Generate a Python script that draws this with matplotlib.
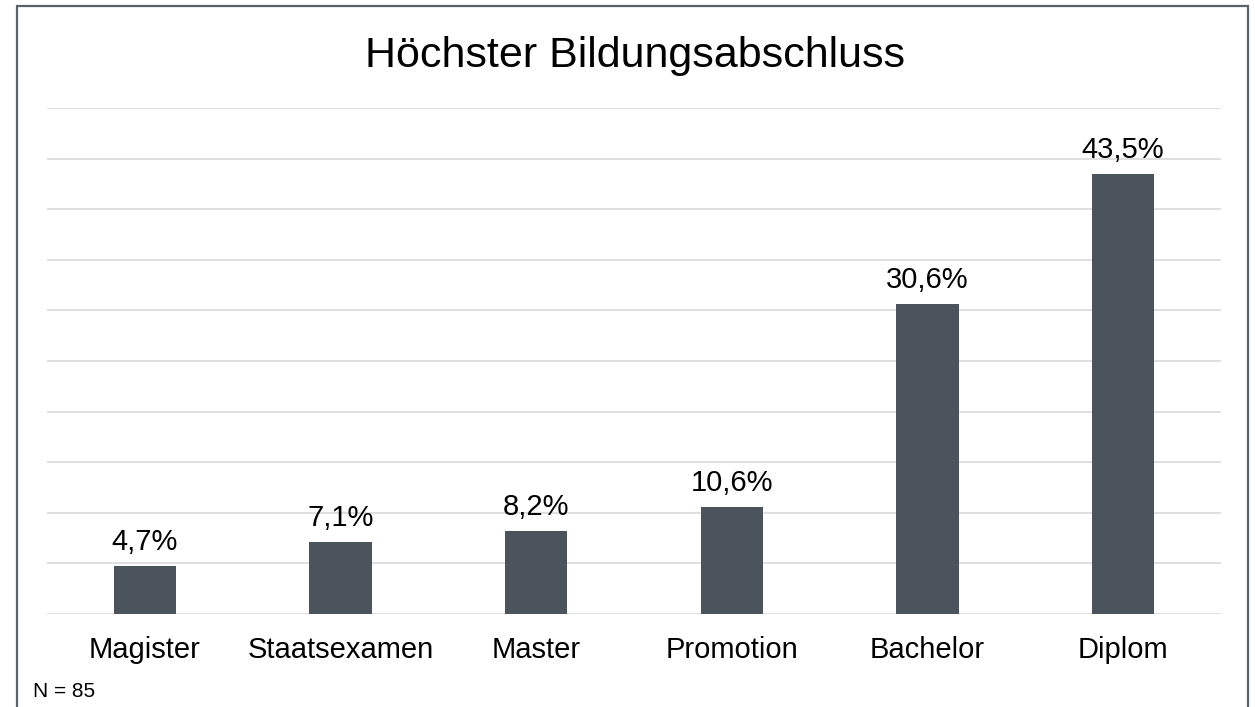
import matplotlib
matplotlib.use("Agg")
import matplotlib.pyplot as plt
from matplotlib.patches import Rectangle

categories = ["Magister", "Staatsexamen", "Master", "Promotion", "Bachelor", "Diplom"]
values = [4.7, 7.1, 8.2, 10.6, 30.6, 43.5]
title = "Höchster Bildungsabschluss"
note = "N = 85"

plt.rcParams['font.family'] = ['Liberation Sans', 'DejaVu Sans']

W, H = 1255, 707
fig = plt.figure(figsize=(W / 100, H / 100), dpi=100)
ax = fig.add_axes([47 / W, 93 / H, (1221 - 47) / W, (599 - 93) / H])

bar_color = "#4b545c"
grid_color = "#d9d9d9"

x = list(range(len(categories)))
ax.bar(x, values, width=0.317, color=bar_color, zorder=3)
ax.set_xlim(-0.5, len(categories) - 0.5)
ax.set_ylim(0, 50)
for yv in range(0, 55, 5):
    ax.axhline(yv, color=grid_color, lw=1.2, zorder=1)

for s in ax.spines.values():
    s.set_visible(False)
ax.set_xticks([])
ax.set_yticks([])

for xi, v in zip(x, values):
    ax.annotate(f"{v:.1f}%".replace(".", ","), xy=(xi, v), xytext=(0, 11.5),
                textcoords="offset points", ha="center", va="baseline",
                fontsize=21, color="#000000")

for xi, c in zip(x, categories):
    ax.annotate(c, xy=(xi, 0), xycoords=("data", "axes fraction"),
                xytext=(0, -31.7), textcoords="offset points",
                ha="center", va="baseline", fontsize=21, color="#000000")

fig.text(635 / W, 1 - 67 / H, title, ha="center", va="baseline", fontsize=31, color="#000000")
fig.text(33 / W, 1 - 697 / H, note, ha="left", va="baseline", fontsize=15, color="#000000")

border = Rectangle((17 / W, -0.2), (1248 - 17) / W, (1 - 6 / H) + 0.2,
                   transform=fig.transFigure, fill=False, edgecolor="#5a626a",
                   lw=1.6, clip_on=False)
fig.patches.append(border)

fig.savefig("out.png", dpi=100, facecolor="white")
